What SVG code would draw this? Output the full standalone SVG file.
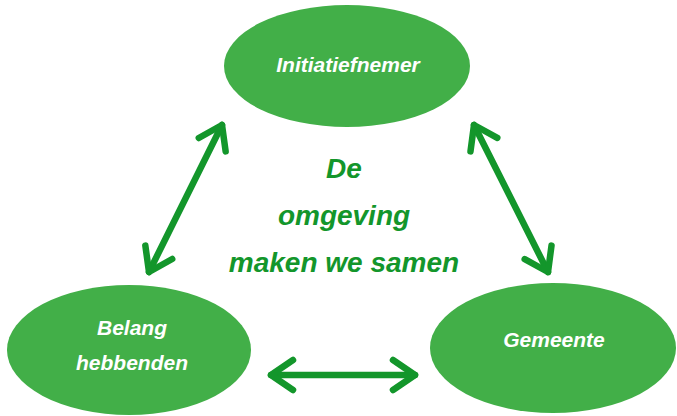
<svg xmlns="http://www.w3.org/2000/svg" width="677" height="416" viewBox="0 0 677 416">
<defs>
<style>
.node{fill:#42AF48}
.nt{fill:#ffffff;font-family:"Liberation Sans",Arial,sans-serif;font-style:italic;font-weight:bold;text-anchor:middle}
.ct{fill:#13962B;font-family:"Liberation Sans",Arial,sans-serif;font-style:italic;font-weight:bold;text-anchor:middle;font-size:28px}
.conn{stroke:#13962B;stroke-width:6.5;stroke-linecap:round;fill:none;marker-start:url(#chev);marker-end:url(#chev)}
</style>
<marker id="chev" markerUnits="userSpaceOnUse" viewBox="-30 -24 36 48" markerWidth="36" markerHeight="48" refX="0" refY="0" orient="auto-start-reverse">
<path d="M -22 -15 L 0 0 L -22 15" fill="none" stroke="#13962B" stroke-width="6.5" stroke-linecap="round" stroke-linejoin="round"/>
</marker>
</defs>
<rect width="677" height="416" fill="#ffffff"/>
<g id="connectors">
<line class="conn" x1="149" y1="272" x2="222" y2="125"/>
<line class="conn" x1="474" y1="125" x2="548" y2="272"/>
<line class="conn" x1="271" y1="375" x2="415" y2="375"/>
</g>
<g id="initiatiefnemer">
<ellipse class="node" cx="347" cy="66" rx="123" ry="61"/>
<text class="nt" x="348" y="72" font-size="21">Initiatiefnemer</text>
</g>
<g id="belanghebbenden">
<ellipse class="node" cx="129" cy="350" rx="122" ry="65"/>
<text class="nt" x="132" y="335" font-size="21">Belang</text>
<text class="nt" x="132" y="370" font-size="21">hebbenden</text>
</g>
<g id="gemeente">
<ellipse class="node" cx="553" cy="348" rx="123" ry="65"/>
<text class="nt" x="554" y="347" font-size="21">Gemeente</text>
</g>
<g id="center">
<text class="ct" x="344" y="178">De</text>
<text class="ct" x="344" y="225">omgeving</text>
<text class="ct" x="344" y="272">maken we samen</text>
</g>
</svg>
